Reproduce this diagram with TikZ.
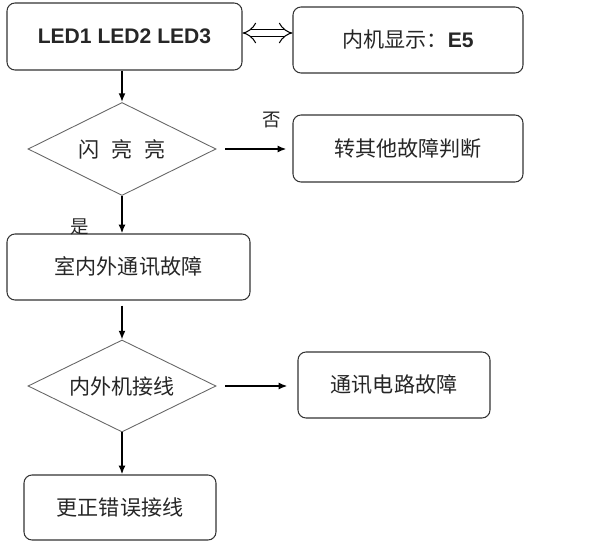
\documentclass[tikz,border=0pt]{standalone}
\usepackage{fontspec}
\setmainfont{Liberation Sans}
\newfontfamily\cjk{Noto Sans CJK SC}
\usetikzlibrary{shapes.geometric,arrows.meta}

\begin{document}
\begin{tikzpicture}[
    box/.style={draw=black!80, line width=0.6pt, rounded corners=0.16cm, align=center,
        font=\fontsize{12}{14}\selectfont\cjk, text=black!85},
    choice/.style={draw=black!60, line width=0.5pt, diamond, aspect=2, inner sep=0pt,
        font=\fontsize{12}{14}\selectfont\cjk, text=black!85},
    flow/.style={-{Latex[length=5pt,width=4pt]}, line width=1pt},
    tag/.style={font=\fontsize{10.5}{12}\selectfont\cjk, text=black!85}
  ]
            \useasboundingbox (0,0) rectangle (11.9,10.82);

            % Draw the boxes
            \node[box, minimum width=4.7cm, minimum height=1.34cm] (led) at (2.49,10.09)
                {\fontspec{Liberation Sans}\bfseries LED1 LED2 LED3};
            \node[box, minimum width=4.6cm, minimum height=1.32cm] (disp) at (8.16,10.02)
                {内机显示：{\fontspec{Liberation Sans}\bfseries E5}};
            \node[box, minimum width=4.6cm, minimum height=1.34cm] (other) at (8.16,7.85) {转其他故障判断};
            \node[box, minimum width=4.86cm, minimum height=1.32cm] (comm) at (2.57,5.48) {室内外通讯故障};
            \node[box, minimum width=3.84cm, minimum height=1.32cm] (circ) at (7.88,3.12) {通讯电路故障};
            \node[box, minimum width=3.84cm, minimum height=1.30cm] (fix) at (2.40,0.67) {更正错误接线};

            % Draw the decisions
            \node[choice, minimum width=3.76cm, minimum height=1.86cm] (blink) at (2.44,7.84)
                {闪\hspace{0.55em}亮\hspace{0.55em}亮};
            \node[choice, minimum width=3.76cm, minimum height=1.84cm] (wire) at (2.44,3.10) {内外机接线};

            % Draw the arrows
            \draw[line width=0.6pt, double=white, double distance=3.6pt, {Implies}-{Implies}]
                ([yshift=0.07cm]led.east) -- ([yshift=0.07cm]led.east -| disp.west);
            \draw[flow] (led.south -| blink.north) -- (blink.north);
            \draw[flow, shorten <=0.18cm, shorten >=0.12cm] (blink.east) -- (blink.east -| other.west);
            \draw[flow] (blink.south) -- (blink.south |- comm.north);
            \draw[flow, shorten <=0.1cm] (comm.south -| wire.north) -- (wire.north);
            \draw[flow, shorten <=0.18cm, shorten >=0.2cm] (wire.east) -- (wire.east -| circ.west);
            \draw[flow] (wire.south) -- (wire.south |- fix.north);

            % Label the branches
            \node[tag] (no) at (5.44,8.42) {否};
            \node[tag] (yes) at (1.60,6.28) {是};
        \end{tikzpicture}
\end{document}
